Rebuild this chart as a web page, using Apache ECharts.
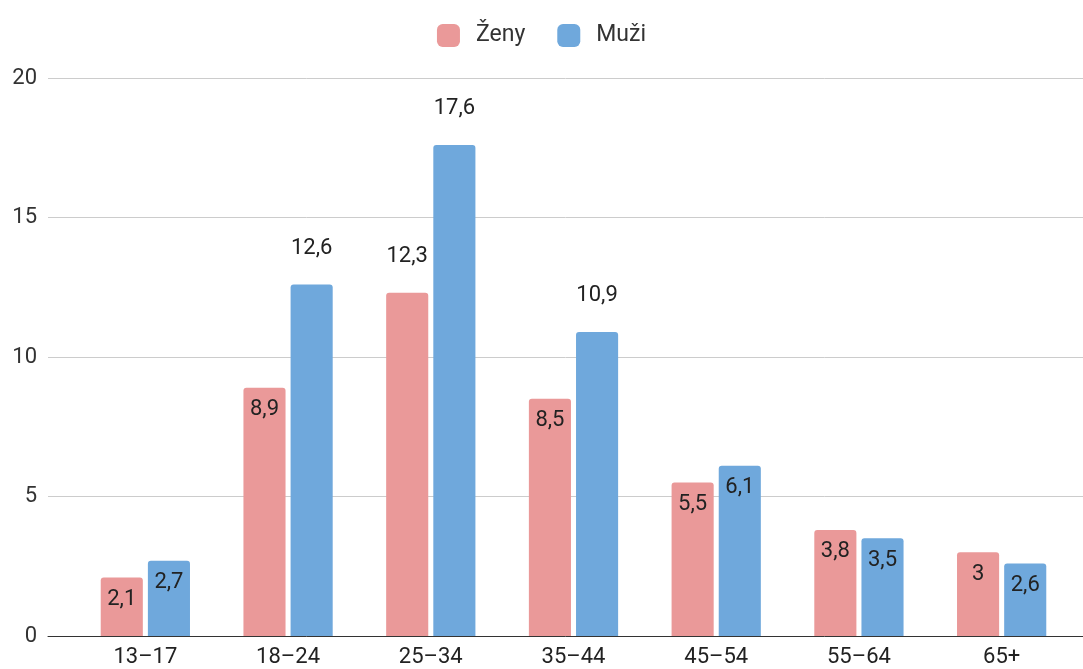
<!DOCTYPE html>
<html>
<head>
<meta charset="utf-8">
<script src="https://cdn.jsdelivr.net/npm/echarts@6/dist/echarts.min.js"></script>
<style>
  html, body { margin: 0; padding: 0; background: #fff; }
  #main { width: 1083px; height: 669px; }
</style>
</head>
<body>
<div id="main"></div>
<script>
var myChart = echarts.init(document.getElementById('main'));

var categories = ['13–17', '18–24', '25–34', '35–44', '45–54', '55–64', '65+'];
var zeny = [2.1, 8.9, 12.3, 8.5, 5.5, 3.8, 3.0];
var muzi = [2.7, 12.6, 17.6, 10.9, 6.1, 3.5, 2.6];
var yTicks = [0, 5, 10, 15, 20];

// tall bars get their label above, short ones inside the top
function withLabels(values) {
    return values.map(function (v) {
        var outside = v > 10;
        return {
            value: v,
            label: {
                position: outside ? 'top' : 'insideTop',
                distance: outside ? 25 : 11
            }
        };
    });
}

var labelStyle = {
    show: true,
    fontFamily: 'Roboto',
    fontSize: 22,
    color: '#222',
    formatter: function (p) {
        return String(p.value).replace('.', ',');
    }
};

option = {
    animation: false,
    textStyle: { fontFamily: 'Roboto' },
    legend: {
        top: 19,
        left: 'center',
        itemWidth: 23,
        itemHeight: 23,
        itemGap: 32,
        icon: 'roundRect',
        textStyle: { fontSize: 23, color: '#333', padding: [0, 0, 0, 11] },
        data: ['Ženy', 'Muži']
    },
    grid: [
        { left: 74, right: 10, top: 78, bottom: 33 },
        { left: 48, right: 0, top: 78, bottom: 33 }
    ],
    xAxis: [{
        type: 'category',
        gridIndex: 0,
        data: categories,
        axisLine: { show: false },
        axisTick: { show: false },
        axisLabel: { fontSize: 22, color: '#222', margin: 10 }
    }, {
        type: 'category',
        gridIndex: 1,
        data: [''],
        axisLine: { show: true, lineStyle: { color: '#333', width: 1 } },
        axisTick: { show: false },
        axisLabel: { show: false }
    }],
    yAxis: [{
        type: 'value',
        gridIndex: 0,
        min: 0,
        max: 20,
        interval: 5,
        show: false,
        splitLine: { show: false }
    }, {
        type: 'value',
        gridIndex: 1,
        min: yTicks[0],
        max: yTicks[yTicks.length - 1],
        interval: 5,
        axisLine: { show: false },
        axisTick: { show: false },
        axisLabel: { fontSize: 22, color: '#333', margin: 11 },
        splitLine: { lineStyle: { color: '#cccccc' } }
    }],
    series: [{
        name: 'Ženy',
        type: 'bar',
        xAxisIndex: 0,
        yAxisIndex: 0,
        barWidth: '29.5%',
        barGap: '12%',
        data: withLabels(zeny),
        itemStyle: { color: '#ea9999', borderRadius: [3, 3, 0, 0] },
        label: labelStyle
    }, {
        name: 'Muži',
        type: 'bar',
        xAxisIndex: 0,
        yAxisIndex: 0,
        barWidth: '29.5%',
        barGap: '12%',
        data: withLabels(muzi),
        itemStyle: { color: '#6fa8dc', borderRadius: [3, 3, 0, 0] },
        label: labelStyle
    }]
};

myChart.setOption(option);
</script>
</body>
</html>
